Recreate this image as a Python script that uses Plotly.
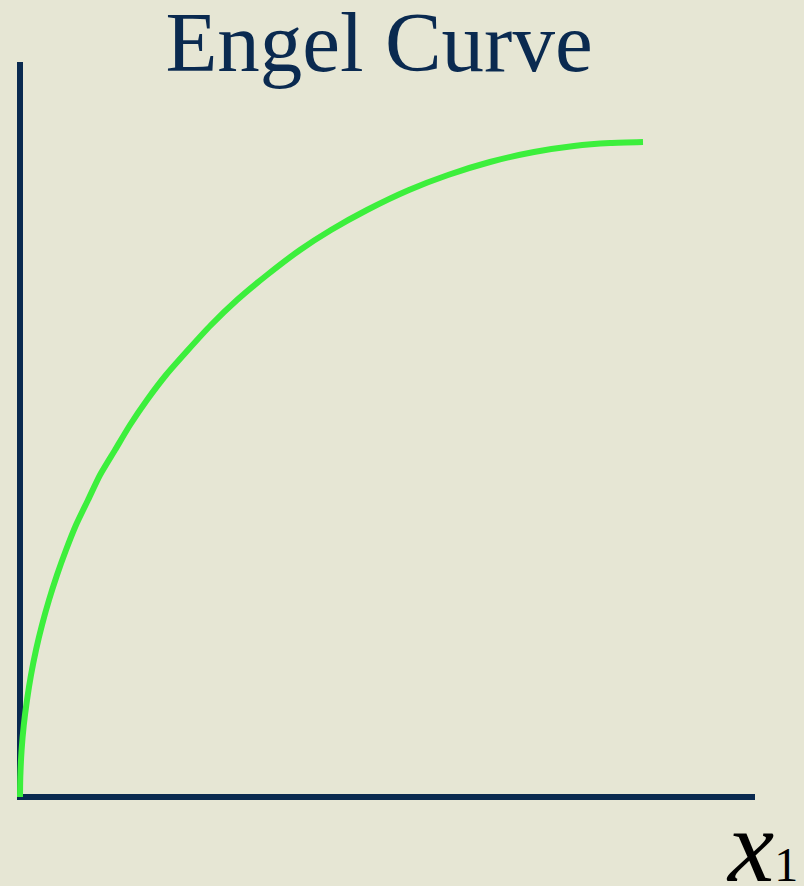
import plotly.graph_objects as go

# Engel curve: quantity of good 1 (x1) against income, concave and levelling off
x1_values = [0, 0.3, 1.6, 3.8, 7, 11, 16, 22, 29, 37, 46, 56, 68, 80, 95, 110,
             127, 146, 168, 191, 217, 247, 280, 311, 347, 389, 428, 470, 514,
             554, 590, 623]
income_values = [0, 20, 47, 72, 97, 122, 147, 172, 197, 222, 247, 272, 297, 322, 347, 372,
                 397, 422, 447, 472, 497, 522, 547, 567, 587, 607, 622, 635, 645,
                 651, 654, 655]

title_text = "Engel Curve"
x_label = "<i>x</i><span style='font-size:48px'>1</span>"

navy = "#0a2a50"
green = "#3cef3c"
paper = "#e6e6d4"

fig = go.Figure()
fig.add_trace(go.Scatter(
    x=x1_values, y=income_values, mode="lines",
    line=dict(color=green, width=6, shape="spline", smoothing=0.6),
    hoverinfo="skip", showlegend=False,
))

axis_common = dict(
    showgrid=False, showticklabels=False, ticks="",
    zeroline=True, zerolinecolor=navy, zerolinewidth=6,
    showline=False, fixedrange=True,
)
fig.update_xaxes(range=[-3, 735], **axis_common)
fig.update_yaxes(range=[-3, 735], **axis_common)

fig.update_layout(
    width=804, height=886,
    margin=dict(l=17, r=49, t=62, b=86),
    paper_bgcolor=paper, plot_bgcolor=paper,
    title=dict(
        text=title_text, x=379 / 804, xanchor="center",
        y=1 - 11 / 886, yanchor="top", yref="container",
        font=dict(family="Liberation Serif, Times New Roman, serif", size=85, color=navy),
    ),
    annotations=[dict(
        text=x_label, xref="paper", yref="paper",
        x=(800 - 17) / 738, xanchor="right",
        y=(800 - 905) / 738, yanchor="bottom",
        showarrow=False,
        font=dict(family="Liberation Serif, Times New Roman, serif", size=104, color="#000000"),
    )],
)

fig.write_html("out.html")
